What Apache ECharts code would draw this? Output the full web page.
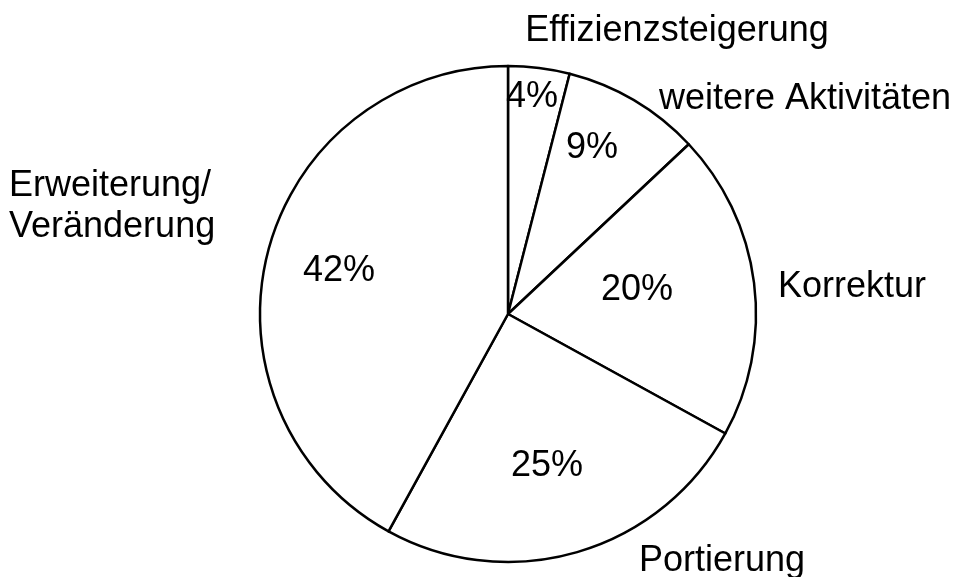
<!DOCTYPE html>
<html>
<head>
<meta charset="utf-8">
<script src="https://cdn.jsdelivr.net/npm/echarts@6/dist/echarts.min.js"></script>
<style>
html,body{margin:0;padding:0;background:#fff;}
#chart{width:959px;height:577px;}
</style>
</head>
<body>
<div id="chart"></div>
<script>
// ---- data ----
const categories = ['Effizienzsteigerung', 'weitere Aktivitäten', 'Korrektur', 'Portierung', 'Erweiterung/\nVeränderung'];
const values = [4, 9, 20, 25, 42];
const percentLabels = ['4%', '9%', '20%', '25%', '42%'];

// ---- label placement (pixel positions of label anchors) ----
const pctPos = [[532, 97], [592, 148], [637, 290], [547, 466], [339, 271]];
const namePos = [[677, 31, 'center'], [805, 99, 'center'], [852, 287, 'center'], [722, 561, 'center'], [9, 207, 'left']];

const font = "'Liberation Sans', Arial, sans-serif";
const chart = echarts.init(document.getElementById('chart'), null, {renderer: 'canvas'});

const pieData = categories.map((c, i) => ({name: c, value: values[i]}));

chart.setOption({
  backgroundColor: '#ffffff',
  animation: false,
  series: [
    {
      type: 'pie',
      center: [508, 314],
      radius: 248,
      startAngle: 90,
      clockwise: true,
      avoidLabelOverlap: false,
      itemStyle: {color: '#ffffff', borderColor: '#000000', borderWidth: 2.5},
      emphasis: {disabled: true},
      label: {
        show: true,
        position: 'inside',
        formatter: p => percentLabels[p.dataIndex],
        fontFamily: font,
        fontSize: 36,
        color: '#000'
      },
      labelLine: {show: false},
      labelLayout: p => ({x: pctPos[p.dataIndex][0], y: pctPos[p.dataIndex][1], align: 'center', verticalAlign: 'middle'}),
      data: pieData
    },
    {
      type: 'pie',
      center: [508, 314],
      radius: 248,
      startAngle: 90,
      clockwise: true,
      silent: true,
      avoidLabelOverlap: false,
      itemStyle: {color: 'rgba(0,0,0,0)', borderWidth: 0},
      emphasis: {disabled: true},
      label: {
        show: true,
        position: 'outside',
        formatter: '{b}',
        fontFamily: font,
        fontSize: 36,
        lineHeight: 41,
        color: '#000'
      },
      labelLine: {show: false},
      labelLayout: p => ({x: namePos[p.dataIndex][0], y: namePos[p.dataIndex][1], align: namePos[p.dataIndex][2], verticalAlign: 'middle'}),
      data: pieData
    }
  ]
});
</script>
</body>
</html>
